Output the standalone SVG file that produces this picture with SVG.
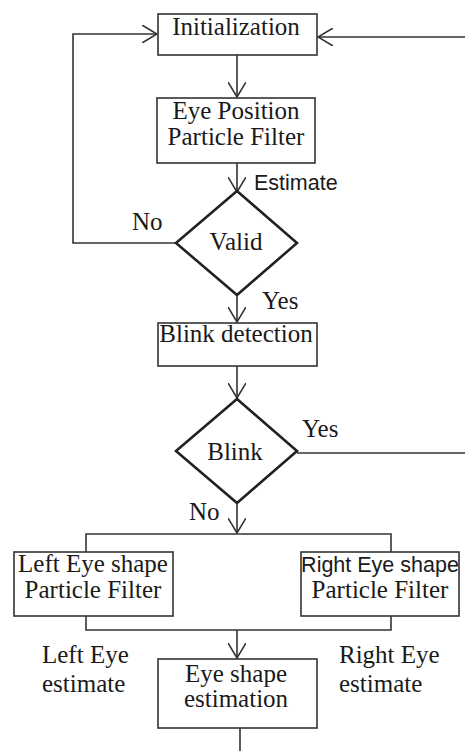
<svg xmlns="http://www.w3.org/2000/svg" width="465" height="751" viewBox="0 0 465 751">
<style>
.box{fill:#fff;stroke:#333;stroke-width:1.6}
.dia{fill:#fff;stroke:#222;stroke-width:2.6}
.ln{fill:none;stroke:#333;stroke-width:1.6}
.t{font-family:"Liberation Serif","Times New Roman",serif;font-size:25px;fill:#1a1a1a}
.s{font-family:"Liberation Sans",Arial,sans-serif;font-size:21.5px;fill:#1a1a1a}
.c{text-anchor:middle}
</style>
<defs>
<marker id="arr" viewBox="0 0 16 18" refX="15" refY="9" markerWidth="16" markerHeight="18" orient="auto" markerUnits="userSpaceOnUse">
<path d="M0,0 L15,9 L0,18" fill="none" stroke="#333" stroke-width="1.6"/>
</marker>
</defs>
<g id="connectors">
<path class="ln" d="M237,55 V97" marker-end="url(#arr)"/>
<path class="ln" d="M237,163 V192" marker-end="url(#arr)"/>
<path class="ln" d="M176,243 H73 V34 H157" marker-end="url(#arr)"/>
<path class="ln" d="M465,37 H318" marker-end="url(#arr)"/>
<path class="ln" d="M237,295 V322" marker-end="url(#arr)"/>
<path class="ln" d="M237,366 V398" marker-end="url(#arr)"/>
<path class="ln" d="M297,453 H465"/>
<path class="ln" d="M237,503 V533" marker-end="url(#arr)"/>
<path class="ln" d="M86,552 V534 H391 V552"/>
<path class="ln" d="M86,616 V630 H391 V616"/>
<path class="ln" d="M237,630 V658" marker-end="url(#arr)"/>
<path class="ln" d="M240,728 V751"/>
</g>
<g id="init">
<rect class="box" x="158" y="14" width="159" height="41"/>
<text class="t c" x="236" y="35">Initialization</text>
</g>
<g id="eyepos">
<rect class="box" x="157" y="98" width="158" height="65"/>
<text class="t c" x="236" y="119">Eye Position</text>
<text class="t c" x="236" y="145">Particle Filter</text>
</g>
<g id="valid">
<polygon class="dia" points="237,191 297,243 237,295 176,243"/>
<text class="t c" x="236" y="250">Valid</text>
</g>
<g id="blinkdet">
<rect class="box" x="158" y="323" width="159" height="43"/>
<text class="t c" x="236" y="342">Blink detection</text>
</g>
<g id="blink">
<polygon class="dia" points="237,399 297,451 237,503 176,451"/>
<text class="t c" x="235" y="460">Blink</text>
</g>
<g id="lefteye">
<rect class="box" x="14" y="552" width="159" height="64"/>
<text class="t c" x="93" y="572">Left Eye shape</text>
<text class="t c" x="93" y="598">Particle Filter</text>
</g>
<g id="righteye">
<rect class="box" x="301" y="552" width="158" height="64"/>
<text class="s c" x="380" y="572">Right Eye shape</text>
<text class="t c" x="380" y="598">Particle Filter</text>
</g>
<g id="eyeshape">
<rect class="box" x="158" y="659" width="159" height="69"/>
<text class="t c" x="236" y="682">Eye shape</text>
<text class="t c" x="236" y="707">estimation</text>
</g>
<g id="labels">
<text class="s" x="254" y="190">Estimate</text>
<text class="t" x="132" y="230">No</text>
<text class="t" x="262" y="309">Yes</text>
<text class="t" x="302" y="437">Yes</text>
<text class="t" x="189" y="520">No</text>
<text class="t" x="42" y="663">Left Eye</text>
<text class="t" x="42" y="692">estimate</text>
<text class="t" x="339" y="663">Right Eye</text>
<text class="t" x="339" y="692">estimate</text>
</g>
</svg>
